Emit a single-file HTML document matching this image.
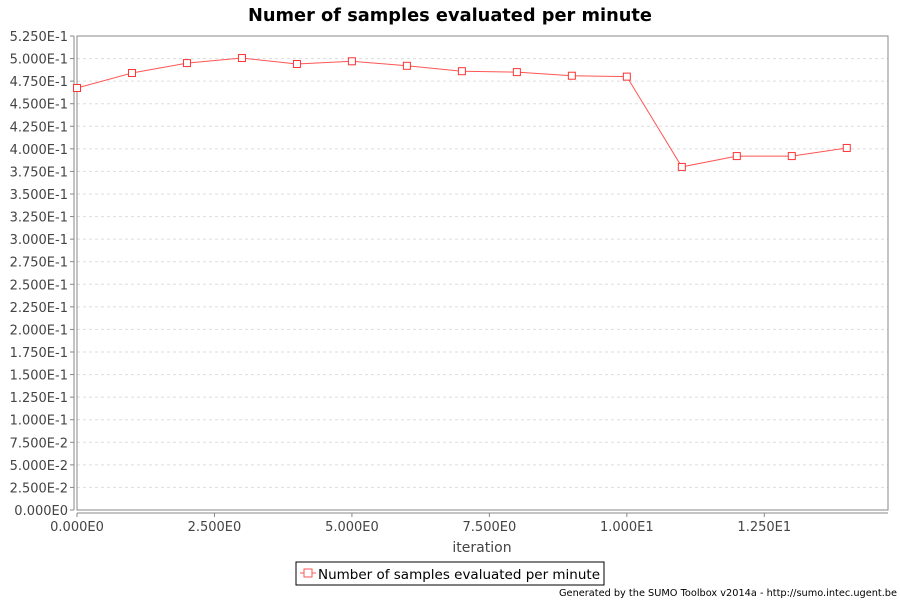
<!DOCTYPE html>
<html><head><meta charset="utf-8"><style>
body{margin:0;background:#fff;}
text{font-family:"DejaVu Sans","Liberation Sans",sans-serif;}
</style></head><body>
<svg id="chart" width="900" height="600" xmlns="http://www.w3.org/2000/svg">
<rect width="900" height="600" fill="#fff"/>
<text x="450" y="21" text-anchor="middle" font-size="18" font-weight="bold" fill="#000" textLength="404" lengthAdjust="spacingAndGlyphs">Numer of samples evaluated per minute</text>
<g id="grid"></g>
<rect x="77" y="36" width="811" height="474" fill="none" stroke="#888"/>
<line x1="74" y1="36" x2="74" y2="510" stroke="#888"/>
<line x1="77" y1="513" x2="888" y2="513" stroke="#888"/>
<g id="ticks"></g>
<g id="series"></g>
<text x="482" y="552" text-anchor="middle" font-size="14" fill="#444">iteration</text>
<g>
<rect x="296" y="562" width="308" height="23" fill="#fff" stroke="#000"/>
<line x1="300" y1="573" x2="316" y2="573" stroke="#f55"/>
<rect x="304" y="569" width="8" height="8" fill="#fff" stroke="#f55"/>
<text x="318" y="579" font-size="13.5" fill="#000" textLength="282" lengthAdjust="spacingAndGlyphs">Number of samples evaluated per minute</text>
</g>
<text x="897" y="596" text-anchor="end" font-size="10" fill="#000" textLength="338" lengthAdjust="spacingAndGlyphs">Generated by the SUMO Toolbox v2014a - http://sumo.intec.ugent.be</text>
</svg>
<script>
const xValues=[0,1,2,3,4,5,6,7,8,9,10,11,12,13,14];
const yValues=[0.4674,0.484,0.495,0.5006,0.494,0.497,0.492,0.486,0.485,0.481,0.480,0.380,0.392,0.392,0.401];
const yTickLabels=["0.000E0","2.500E-2","5.000E-2","7.500E-2","1.000E-1","1.250E-1","1.500E-1","1.750E-1","2.000E-1","2.250E-1","2.500E-1","2.750E-1","3.000E-1","3.250E-1","3.500E-1","3.750E-1","4.000E-1","4.250E-1","4.500E-1","4.750E-1","5.000E-1","5.250E-1"];
const xTickLabels=["0.000E0","2.500E0","5.000E0","7.500E0","1.000E1","1.250E1"];
const NS="http://www.w3.org/2000/svg";
const L=77,R=888,T=36,B=510,XMAX=14.75,YMAX=0.525;
const sx=v=>L+v/XMAX*(R-L);
const sy=v=>B-v/YMAX*(B-T);
function mk(tag,attrs,parent){const e=document.createElementNS(NS,tag);for(const k in attrs)e.setAttribute(k,attrs[k]);parent.appendChild(e);return e;}
const grid=document.getElementById('grid'),ticks=document.getElementById('ticks'),series=document.getElementById('series');
yTickLabels.forEach((lab,i)=>{const v=i*0.025,y=sy(v);
 if(i>0&&i<yTickLabels.length-1){const g=mk('line',{x1:L,x2:R,y1:y,y2:y,stroke:'#ddd','stroke-dasharray':'3,3'},grid);
 
 }
 const tk=mk('line',{x1:70,x2:74,y1:y,y2:y,stroke:'#888'},ticks);
 
 
 const t=mk('text',{x:68,y:y+5,'text-anchor':'end','font-size':'13',fill:'#444'},ticks);t.textContent=lab;
 
 });
xTickLabels.forEach((lab,i)=>{const x=sx(i*2.5);
 const tk=mk('line',{x1:x,x2:x,y1:513,y2:517,stroke:'#888'},ticks);
 
 
 const t=mk('text',{x:x,y:531,'text-anchor':'middle','font-size':'13',fill:'#444'},ticks);t.textContent=lab;
 
 });
const pts=xValues.map((x,i)=>sx(x)+','+sy(yValues[i])).join(' ');
const pl=mk('polyline',{points:pts,fill:'none',stroke:'#f55','stroke-width':1},series);


xValues.forEach((x,i)=>{const m=mk('rect',{x:sx(x)-3.5,y:sy(yValues[i])-3.5,width:7,height:7,fill:'#fff',stroke:'#f33'},series);
 
 });
</script>
</body></html>
